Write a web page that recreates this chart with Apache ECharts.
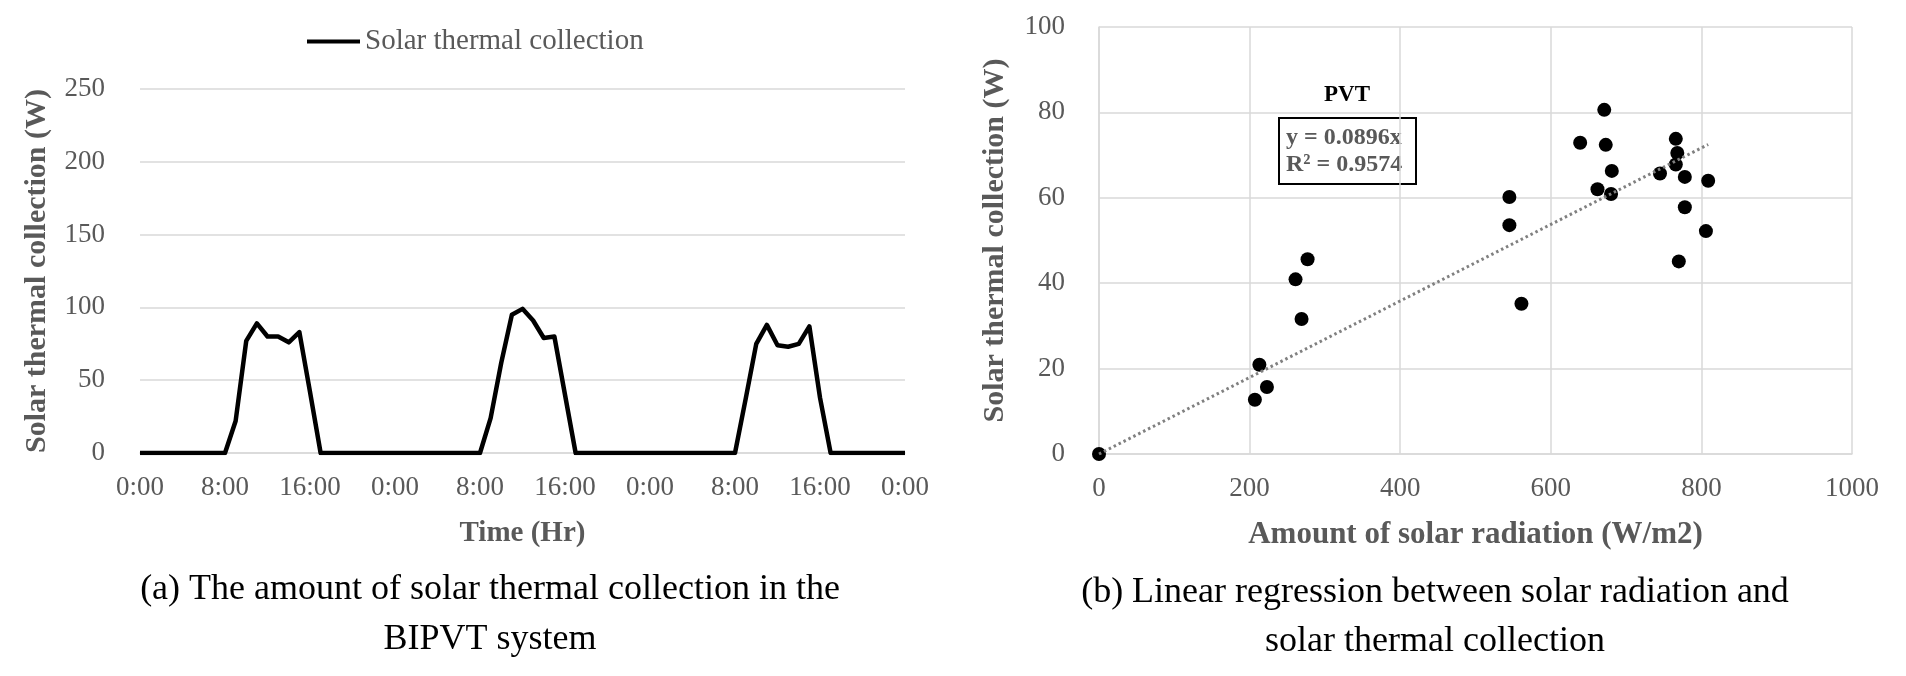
<!DOCTYPE html>
<html>
<head>
<meta charset="utf-8">
<script src="https://cdn.jsdelivr.net/npm/echarts@6/dist/echarts.min.js"></script>
<style>
  html, body { margin: 0; padding: 0; background: #fff; }
  #chart { width: 1906px; height: 676px; }
</style>
</head>
<body>
<div id="chart"></div>
<script>
// (a) hourly solar thermal collection (W), hour 0 .. 72
const thermal = [
  0, 0, 0, 0, 0, 0, 0, 0, 0, 22, 77, 89, 80, 80, 76, 83, 42,
  0, 0, 0, 0, 0, 0, 0, 0, 0, 0, 0, 0, 0, 0, 0, 0, 24, 62, 95, 99, 91, 79, 80, 40,
  0, 0, 0, 0, 0, 0, 0, 0, 0, 0, 0, 0, 0, 0, 0, 0, 37, 75, 88, 74, 73, 75, 87, 38,
  0, 0, 0, 0, 0, 0, 0, 0
];
const hourTicks = ['0:00', '8:00', '16:00', '0:00', '8:00', '16:00', '0:00', '8:00', '16:00', '0:00'];

// (b) solar radiation (W/m2) vs solar thermal collection (W)
const radiation = [0, 207, 213, 223, 261, 269, 277, 545, 545, 561, 639, 662, 671, 673, 680, 681,
  745, 766, 766, 768, 770, 778, 778, 806, 809];
const collection = [0, 12.7, 20.9, 15.7, 40.9, 31.6, 45.6, 60.2, 53.6, 35.2, 72.9, 62.0, 80.6, 72.4, 60.9, 66.3,
  65.7, 73.8, 67.8, 70.5, 45.1, 64.9, 57.8, 52.2, 64.0];
const trendSlope = 0.0896;
const trendRange = [0, 809];

const serif = "'Liberation Serif', 'Times New Roman', serif";
const grayText = '#595959';
const gridColor = '#d9d9d9';

var myChart = echarts.init(document.getElementById('chart'));
var option;

const axisLabelStyle = { color: grayText, fontFamily: serif, fontSize: 27 };
const axisNameStyle = { color: grayText, fontFamily: serif, fontSize: 29, fontWeight: 'bold' };

option = {
  backgroundColor: '#fff',
  animation: false,
  legend: {
    data: ['Solar thermal collection'],
    left: 302,
    top: 22,
    icon: 'rect',
    itemWidth: 53,
    itemHeight: 4,
    itemGap: 7,
    textStyle: { color: grayText, fontFamily: serif, fontSize: 29 }
  },
  grid: [
    { left: 140, top: 89, width: 765, height: 364 },
    { left: 1099, top: 27, width: 753, height: 427 }
  ],
  xAxis: [
    {
      gridIndex: 0,
      type: 'value',
      min: 0,
      max: 72,
      interval: 8,
      name: 'Time (Hr)',
      nameLocation: 'middle',
      nameGap: 66,
      nameTextStyle: axisNameStyle,
      axisLine: { lineStyle: { color: gridColor, width: 1.5 } },
      axisTick: { show: false },
      splitLine: { show: false },
      axisLabel: Object.assign({ margin: 21, formatter: v => hourTicks[v / 8] }, axisLabelStyle)
    },
    {
      gridIndex: 1,
      type: 'value',
      min: 0,
      max: 1000,
      interval: 200,
      name: 'Amount of solar radiation (W/m2)',
      nameLocation: 'middle',
      nameGap: 65,
      nameTextStyle: Object.assign({}, axisNameStyle, { fontSize: 31 }),
      axisLine: { lineStyle: { color: gridColor, width: 1.5 } },
      axisTick: { show: false },
      splitLine: { lineStyle: { color: gridColor, width: 1.5 } },
      axisLabel: Object.assign({ margin: 21, formatter: v => String(v) }, axisLabelStyle)
    }
  ],
  yAxis: [
    {
      gridIndex: 0,
      type: 'value',
      min: 0,
      max: 250,
      interval: 50,
      name: 'Solar thermal collection (W)',
      nameLocation: 'middle',
      nameGap: 88,
      nameTextStyle: Object.assign({}, axisNameStyle, { fontSize: 30 }),
      axisLine: { show: false },
      axisTick: { show: false },
      splitLine: { lineStyle: { color: gridColor, width: 1.5 } },
      axisLabel: Object.assign({ margin: 35 }, axisLabelStyle)
    },
    {
      gridIndex: 1,
      type: 'value',
      min: 0,
      max: 100,
      interval: 20,
      name: 'Solar thermal collection (W)',
      nameLocation: 'middle',
      nameGap: 89,
      nameTextStyle: Object.assign({}, axisNameStyle, { fontSize: 30 }),
      axisLine: { show: true, lineStyle: { color: gridColor, width: 1.5 } },
      axisTick: { show: false },
      splitLine: { lineStyle: { color: gridColor, width: 1.5 } },
      axisLabel: Object.assign({ margin: 34 }, axisLabelStyle)
    }
  ],
  series: [
    {
      name: 'Solar thermal collection',
      type: 'line',
      xAxisIndex: 0,
      yAxisIndex: 0,
      symbol: 'none',
      lineStyle: { color: '#000', width: 4.5, join: 'round' },
      itemStyle: { color: '#000' },
      data: thermal.map((v, i) => [i, v])
    },
    {
      name: 'PVT',
      type: 'scatter',
      xAxisIndex: 1,
      yAxisIndex: 1,
      symbol: 'circle',
      symbolSize: 14,
      itemStyle: { color: '#000', opacity: 1 },
      data: radiation.map((x, i) => [x, collection[i]])
    },
    {
      name: 'Trend',
      type: 'line',
      xAxisIndex: 1,
      yAxisIndex: 1,
      symbol: 'none',
      lineStyle: { color: '#808080', width: 3, type: [2.5, 3] },
      data: trendRange.map(x => [x, trendSlope * x])
    }
  ],
  graphic: [
    {
      type: 'text', x: 1347, y: 95,
      style: { text: 'PVT', font: "bold 23px 'Liberation Serif', serif", fill: '#000', align: 'center', verticalAlign: 'middle' }
    },
    {
      type: 'rect', shape: { x: 1279, y: 118, width: 137, height: 66 },
      style: { fill: 'none', stroke: '#000', lineWidth: 2 }
    },
    {
      type: 'text', x: 1286, y: 138,
      style: { text: 'y = 0.0896x', font: "bold 24px 'Liberation Serif', serif", fill: grayText, verticalAlign: 'middle' }
    },
    {
      type: 'text', x: 1286, y: 165,
      style: { text: 'R² = 0.9574', font: "bold 24px 'Liberation Serif', serif", fill: grayText, verticalAlign: 'middle' }
    },
    {
      type: 'text', x: 490, y: 590,
      style: { text: '(a) The amount of solar thermal collection in the', font: "36px 'Liberation Serif', serif", fill: '#000', align: 'center', verticalAlign: 'middle' }
    },
    {
      type: 'text', x: 490, y: 640,
      style: { text: 'BIPVT system', font: "36px 'Liberation Serif', serif", fill: '#000', align: 'center', verticalAlign: 'middle' }
    },
    {
      type: 'text', x: 1435, y: 593,
      style: { text: '(b) Linear regression between solar radiation and', font: "36px 'Liberation Serif', serif", fill: '#000', align: 'center', verticalAlign: 'middle' }
    },
    {
      type: 'text', x: 1435, y: 642,
      style: { text: 'solar thermal collection', font: "36px 'Liberation Serif', serif", fill: '#000', align: 'center', verticalAlign: 'middle' }
    }
  ]
};

option && myChart.setOption(option);
</script>
</body>
</html>
